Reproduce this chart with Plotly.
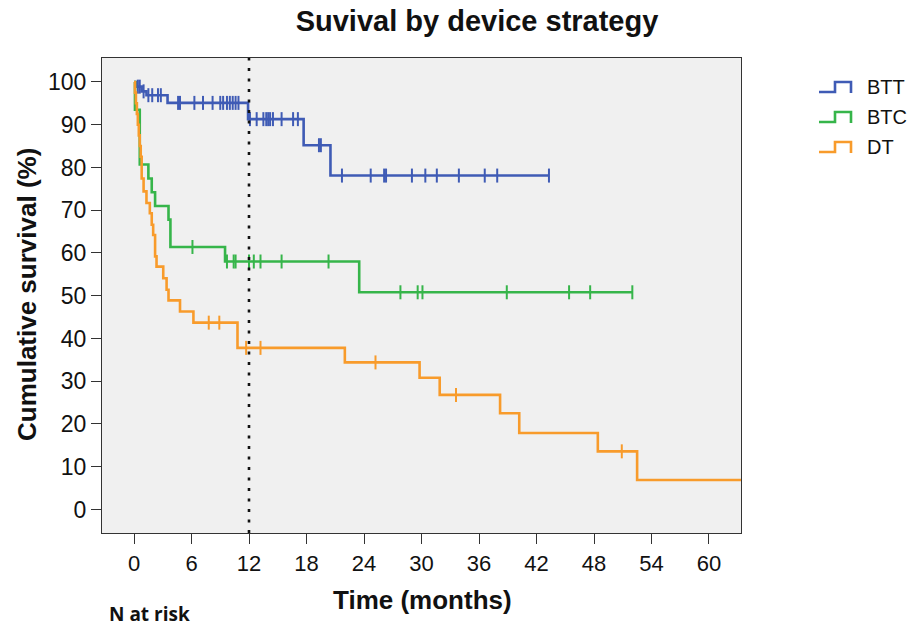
import numpy as np
import plotly.graph_objects as go

# Kaplan-Meier estimates (months, cumulative survival %) per device strategy
btt_event_months = [0.3, 0.8, 1.3, 3.5, 11.9, 17.7, 20.5]
btt_event_surv = [98.9, 97.8, 96.9, 95.1, 91.3, 85.2, 78.1]
btt_censor_months = [0.4, 0.6, 1.0, 1.5, 1.9, 2.5, 2.8, 4.6, 4.8, 6.3, 7.2, 8.2, 9.0, 9.3, 9.7,
                     10.0, 10.3, 10.6, 10.9, 12.1, 12.8, 13.5, 13.8, 14.0, 14.2, 14.5, 15.4,
                     16.6, 17.1, 19.3, 19.5, 21.7, 24.7, 26.1, 26.3, 29.0, 30.4, 31.6, 33.9,
                     36.6, 37.9, 43.3]
btt_last_month = 43.3

btc_event_months = [0.1, 0.6, 1.5, 1.85, 2.2, 3.6, 3.8, 9.5, 23.5]
btc_event_surv = [93.5, 80.7, 77.4, 74.2, 71.0, 67.8, 61.4, 58.0, 50.8]
btc_censor_months = [6.1, 9.7, 10.4, 10.6, 12.0, 12.5, 13.2, 15.4, 20.3, 27.8, 29.6, 30.1,
                     38.9, 45.4, 47.6, 52.0]
btc_last_month = 52.0

dt_event_months = [0.1, 0.2, 0.3, 0.4, 0.5, 0.6, 0.7, 0.8, 1.0, 1.3, 1.65, 1.85, 2.0, 2.2,
                   2.35, 3.05, 3.4, 3.6, 4.8, 6.2, 10.8, 22.0, 29.8, 31.9, 38.2, 40.2, 48.4,
                   52.5]
dt_event_surv = [97.5, 95.0, 92.5, 90.0, 87.5, 85.0, 82.5, 77.4, 74.4, 71.7, 69.3, 66.6, 64.2,
                 59.2, 56.8, 54.1, 51.4, 48.9, 46.3, 43.7, 37.8, 34.4, 30.8, 26.8, 22.5, 17.9,
                 13.6, 6.9]
dt_censor_months = [7.8, 8.9, 11.7, 13.2, 25.2, 33.6, 50.9]
dt_last_month = 64.0

group_names = ["BTT", "BTC", "DT"]
group_colors = ["#3F5BB5", "#36B54A", "#F89B2B"]

x_ticks = [0, 6, 12, 18, 24, 30, 36, 42, 48, 54, 60]
y_ticks = [0, 10, 20, 30, 40, 50, 60, 70, 80, 90, 100]
landmark_month = 12

W, H = 913, 626
ML, MR, MT, MB = 102, 172, 58, 93
FONT = "Liberation Sans, Arial, sans-serif"
INK = "#111111"

groups = [
    (btt_event_months, btt_event_surv, btt_censor_months, btt_last_month),
    (btc_event_months, btc_event_surv, btc_censor_months, btc_last_month),
    (dt_event_months, dt_event_surv, dt_censor_months, dt_last_month),
]

fig = go.Figure()


def surv_at(t, ev_t, ev_s):
    idx = np.searchsorted(np.asarray(ev_t), t, side="right")
    levels = [100.0] + list(ev_s)
    return levels[idx]


for name, color, (ev_t, ev_s, cens, last) in zip(group_names, group_colors, groups):
    xs = [0.0] + list(ev_t) + [last]
    ys = [100.0] + list(ev_s) + [ev_s[-1]]
    fig.add_trace(go.Scatter(
        x=xs, y=ys, mode="lines", name=name,
        line=dict(color=color, width=2.6, shape="hv"),
        showlegend=False, hoverinfo="skip",
    ))
    fig.add_trace(go.Scatter(
        x=cens, y=[surv_at(t, ev_t, ev_s) for t in cens], mode="markers",
        marker=dict(symbol="line-ns", size=10, line=dict(color=color, width=2)),
        showlegend=False, hoverinfo="skip", cliponaxis=False,
    ))

# landmark at one year
fig.add_shape(type="line", xref="x", yref="paper", x0=landmark_month, x1=landmark_month,
              y0=0, y1=1, line=dict(color=INK, width=2.6, dash="3px,7.5px"))

# pixel -> paper helpers for text and legend placed around the plot box
pw, ph = W - ML - MR, H - MT - MB


def px_x(v):
    return (v - ML) / pw


def px_y(v):
    return (H - MB - v) / ph


# step-shaped legend keys on the right
for i, (name, color) in enumerate(zip(group_names, group_colors)):
    base = 92 + 30 * i
    pts = [(819, base), (835, base), (835, base - 10), (851, base - 10), (851, base + 1)]
    path = "M " + " L ".join(f"{px_x(a):.5f},{px_y(b):.5f}" for a, b in pts)
    fig.add_shape(type="path", xref="paper", yref="paper", path=path,
                  line=dict(color=color, width=2.6))
    fig.add_annotation(text=name, xref="paper", yref="paper", x=px_x(865), y=px_y(base - 5),
                       xanchor="left", yanchor="middle", showarrow=False,
                       font=dict(family=FONT, size=20, color=INK))

fig.add_annotation(text="<b>Cumulative survival (%)</b>", xref="paper", yref="paper",
                   x=px_x(27), y=px_y(295), xanchor="center", yanchor="middle",
                   textangle=-90, showarrow=False,
                   font=dict(family=FONT, size=26, color=INK))
fig.add_annotation(text="<b>Time (months)</b>", xref="paper", yref="paper",
                   x=px_x(422), y=px_y(600), xanchor="center", yanchor="middle",
                   showarrow=False, font=dict(family=FONT, size=26, color=INK))
fig.add_annotation(text="<b>N at risk</b>", xref="paper", yref="paper",
                   x=px_x(107), y=px_y(614), xanchor="left", yanchor="middle",
                   showarrow=False, font=dict(family="Open Sans, sans-serif", size=19, color=INK))

fig.update_layout(
    width=W, height=H,
    margin=dict(l=ML, r=MR, t=MT, b=MB),
    paper_bgcolor="white", plot_bgcolor="#F0F0F0",
    title=dict(text="<b>Suvival by device strategy</b>", x=477 / W, xanchor="center",
               y=1 - 21 / H, yanchor="middle",
               font=dict(family=FONT, size=29, color=INK)),
    font=dict(family=FONT, color=INK),
    xaxis=dict(range=[-3.34, 63.34], tickvals=x_ticks, ticks="outside", ticklen=10,
               tickwidth=1.2, tickcolor="#333333", showgrid=False, zeroline=False,
               showline=True, mirror=True, linecolor="#333333", linewidth=1.2,
               tickfont=dict(size=22)),
    yaxis=dict(range=[-5.5, 105.6], tickvals=y_ticks, ticks="outside", ticklen=10,
               tickwidth=1.2, tickcolor="#333333", showgrid=False, zeroline=False,
               showline=True, mirror=True, linecolor="#333333", linewidth=1.2,
               tickfont=dict(size=23)),
)

fig.write_html("out.html")
